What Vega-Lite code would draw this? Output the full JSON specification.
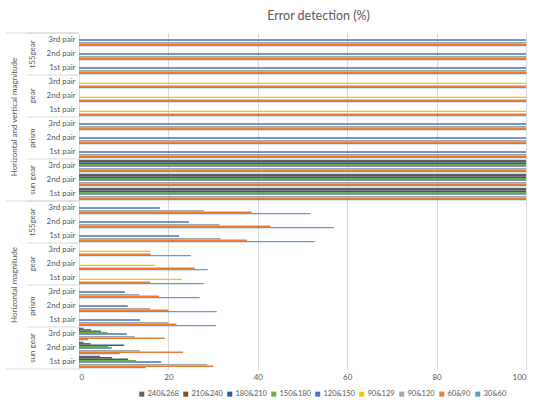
{
  "$schema": "https://vega.github.io/schema/vega-lite/v6.json",
  "width": 447,
  "height": 336,
  "autosize": "none",
  "padding": {"left": 79, "top": 33, "right": 24, "bottom": 41},
  "background": "white",
  "title": {
    "text": "Error detection (%)",
    "fontSize": 12.5,
    "fontWeight": "normal",
    "color": "#595959",
    "anchor": "middle",
    "dx": 16,
    "offset": 10
  },
  "config": {
    "font": "Lato",
    "view": {"stroke": null},
    "axisX": {
      "grid": true,
      "gridColor": "#D9D9D9",
      "domain": false,
      "ticks": false,
      "tickCount": 5,
      "labelColor": "#595959",
      "labelFontSize": 8,
      "labelPadding": 4
    },
    "axisY": {
      "grid": false,
      "domainColor": "#D9D9D9",
      "ticks": false,
      "labelColor": "#595959",
      "labelFontSize": 8,
      "labelPadding": 4,
      "labelExpr": "split(datum.value, '|')[2]"
    },
    "legend": {
      "orient": "none",
      "legendX": 59,
      "legendY": 357,
      "direction": "horizontal",
      "columns": 9,
      "symbolType": "square",
      "symbolSize": 25,
      "labelFontSize": 7.5,
      "labelColor": "#595959",
      "labelOffset": 2,
      "columnPadding": 3
    }
  },
  "datasets": {
    "bars": [
      {"key": "HV|t55gear|3rd pair", "series": "120&150", "value": 100},
      {"key": "HV|t55gear|3rd pair", "series": "90&120", "value": 100},
      {"key": "HV|t55gear|3rd pair", "series": "60&90", "value": 100},
      {"key": "HV|t55gear|3rd pair", "series": "30&60", "value": 100},
      {"key": "HV|t55gear|2nd pair", "series": "120&150", "value": 100},
      {"key": "HV|t55gear|2nd pair", "series": "90&120", "value": 100},
      {"key": "HV|t55gear|2nd pair", "series": "60&90", "value": 100},
      {"key": "HV|t55gear|2nd pair", "series": "30&60", "value": 100},
      {"key": "HV|t55gear|1st pair", "series": "120&150", "value": 100},
      {"key": "HV|t55gear|1st pair", "series": "90&120", "value": 100},
      {"key": "HV|t55gear|1st pair", "series": "60&90", "value": 100},
      {"key": "HV|t55gear|1st pair", "series": "30&60", "value": 100},
      {"key": "HV|gear|3rd pair", "series": "90&129", "value": 100},
      {"key": "HV|gear|3rd pair", "series": "60&90", "value": 100},
      {"key": "HV|gear|3rd pair", "series": "30&60", "value": 100},
      {"key": "HV|gear|2nd pair", "series": "90&129", "value": 100},
      {"key": "HV|gear|2nd pair", "series": "60&90", "value": 100},
      {"key": "HV|gear|2nd pair", "series": "30&60", "value": 100},
      {"key": "HV|gear|1st pair", "series": "90&129", "value": 100},
      {"key": "HV|gear|1st pair", "series": "60&90", "value": 100},
      {"key": "HV|gear|1st pair", "series": "30&60", "value": 100},
      {"key": "HV|prism|3rd pair", "series": "120&150", "value": 100},
      {"key": "HV|prism|3rd pair", "series": "90&120", "value": 100},
      {"key": "HV|prism|3rd pair", "series": "60&90", "value": 100},
      {"key": "HV|prism|3rd pair", "series": "30&60", "value": 100},
      {"key": "HV|prism|2nd pair", "series": "120&150", "value": 100},
      {"key": "HV|prism|2nd pair", "series": "90&120", "value": 100},
      {"key": "HV|prism|2nd pair", "series": "60&90", "value": 100},
      {"key": "HV|prism|2nd pair", "series": "30&60", "value": 100},
      {"key": "HV|prism|1st pair", "series": "120&150", "value": 100},
      {"key": "HV|prism|1st pair", "series": "90&120", "value": 100},
      {"key": "HV|prism|1st pair", "series": "60&90", "value": 100},
      {"key": "HV|prism|1st pair", "series": "30&60", "value": 100},
      {"key": "HV|sun gear|3rd pair", "series": "240&268", "value": 100},
      {"key": "HV|sun gear|3rd pair", "series": "210&240", "value": 100},
      {"key": "HV|sun gear|3rd pair", "series": "180&210", "value": 100},
      {"key": "HV|sun gear|3rd pair", "series": "150&180", "value": 100},
      {"key": "HV|sun gear|3rd pair", "series": "120&150", "value": 100},
      {"key": "HV|sun gear|3rd pair", "series": "90&120", "value": 100},
      {"key": "HV|sun gear|3rd pair", "series": "60&90", "value": 100},
      {"key": "HV|sun gear|3rd pair", "series": "30&60", "value": 100},
      {"key": "HV|sun gear|2nd pair", "series": "240&268", "value": 100},
      {"key": "HV|sun gear|2nd pair", "series": "210&240", "value": 100},
      {"key": "HV|sun gear|2nd pair", "series": "180&210", "value": 100},
      {"key": "HV|sun gear|2nd pair", "series": "150&180", "value": 100},
      {"key": "HV|sun gear|2nd pair", "series": "120&150", "value": 100},
      {"key": "HV|sun gear|2nd pair", "series": "90&120", "value": 100},
      {"key": "HV|sun gear|2nd pair", "series": "60&90", "value": 100},
      {"key": "HV|sun gear|2nd pair", "series": "30&60", "value": 100},
      {"key": "HV|sun gear|1st pair", "series": "240&268", "value": 100},
      {"key": "HV|sun gear|1st pair", "series": "210&240", "value": 100},
      {"key": "HV|sun gear|1st pair", "series": "180&210", "value": 100},
      {"key": "HV|sun gear|1st pair", "series": "150&180", "value": 100},
      {"key": "HV|sun gear|1st pair", "series": "120&150", "value": 100},
      {"key": "HV|sun gear|1st pair", "series": "90&120", "value": 100},
      {"key": "HV|sun gear|1st pair", "series": "60&90", "value": 100},
      {"key": "HV|sun gear|1st pair", "series": "30&60", "value": 100},
      {"key": "H|t55gear|3rd pair", "series": "120&150", "value": 18.1},
      {"key": "H|t55gear|3rd pair", "series": "90&120", "value": 27.9},
      {"key": "H|t55gear|3rd pair", "series": "60&90", "value": 38.6},
      {"key": "H|t55gear|3rd pair", "series": "30&60", "value": 51.8},
      {"key": "H|t55gear|2nd pair", "series": "120&150", "value": 24.6},
      {"key": "H|t55gear|2nd pair", "series": "90&120", "value": 31.4},
      {"key": "H|t55gear|2nd pair", "series": "60&90", "value": 42.8},
      {"key": "H|t55gear|2nd pair", "series": "30&60", "value": 57.0},
      {"key": "H|t55gear|1st pair", "series": "120&150", "value": 22.4},
      {"key": "H|t55gear|1st pair", "series": "90&120", "value": 31.7},
      {"key": "H|t55gear|1st pair", "series": "60&90", "value": 37.6},
      {"key": "H|t55gear|1st pair", "series": "30&60", "value": 52.7},
      {"key": "H|gear|3rd pair", "series": "90&129", "value": 16.0},
      {"key": "H|gear|3rd pair", "series": "60&90", "value": 16.0},
      {"key": "H|gear|3rd pair", "series": "30&60", "value": 25.0},
      {"key": "H|gear|2nd pair", "series": "90&129", "value": 17.1},
      {"key": "H|gear|2nd pair", "series": "60&90", "value": 25.9},
      {"key": "H|gear|2nd pair", "series": "30&60", "value": 28.8},
      {"key": "H|gear|1st pair", "series": "90&129", "value": 23.0},
      {"key": "H|gear|1st pair", "series": "60&90", "value": 15.9},
      {"key": "H|gear|1st pair", "series": "30&60", "value": 27.9},
      {"key": "H|prism|3rd pair", "series": "120&150", "value": 10.3},
      {"key": "H|prism|3rd pair", "series": "90&120", "value": 13.5},
      {"key": "H|prism|3rd pair", "series": "60&90", "value": 17.9},
      {"key": "H|prism|3rd pair", "series": "30&60", "value": 27.0},
      {"key": "H|prism|2nd pair", "series": "120&150", "value": 10.9},
      {"key": "H|prism|2nd pair", "series": "90&120", "value": 15.9},
      {"key": "H|prism|2nd pair", "series": "60&90", "value": 20.0},
      {"key": "H|prism|2nd pair", "series": "30&60", "value": 30.8},
      {"key": "H|prism|1st pair", "series": "120&150", "value": 13.6},
      {"key": "H|prism|1st pair", "series": "90&120", "value": 20.0},
      {"key": "H|prism|1st pair", "series": "60&90", "value": 21.8},
      {"key": "H|prism|1st pair", "series": "30&60", "value": 30.6},
      {"key": "H|sun gear|3rd pair", "series": "240&268", "value": 1.0},
      {"key": "H|sun gear|3rd pair", "series": "210&240", "value": 2.7},
      {"key": "H|sun gear|3rd pair", "series": "180&210", "value": 4.9},
      {"key": "H|sun gear|3rd pair", "series": "150&180", "value": 6.4},
      {"key": "H|sun gear|3rd pair", "series": "120&150", "value": 10.7},
      {"key": "H|sun gear|3rd pair", "series": "90&120", "value": 12.5},
      {"key": "H|sun gear|3rd pair", "series": "60&90", "value": 19.2},
      {"key": "H|sun gear|3rd pair", "series": "30&60", "value": 2.0},
      {"key": "H|sun gear|2nd pair", "series": "240&268", "value": 1.0},
      {"key": "H|sun gear|2nd pair", "series": "210&240", "value": 2.6},
      {"key": "H|sun gear|2nd pair", "series": "180&210", "value": 10.1},
      {"key": "H|sun gear|2nd pair", "series": "150&180", "value": 6.5},
      {"key": "H|sun gear|2nd pair", "series": "120&150", "value": 7.3},
      {"key": "H|sun gear|2nd pair", "series": "90&120", "value": 13.6},
      {"key": "H|sun gear|2nd pair", "series": "60&90", "value": 23.3},
      {"key": "H|sun gear|2nd pair", "series": "30&60", "value": 9.1},
      {"key": "H|sun gear|1st pair", "series": "240&268", "value": 4.7},
      {"key": "H|sun gear|1st pair", "series": "210&240", "value": 7.4},
      {"key": "H|sun gear|1st pair", "series": "180&210", "value": 11.0},
      {"key": "H|sun gear|1st pair", "series": "150&180", "value": 12.7},
      {"key": "H|sun gear|1st pair", "series": "120&150", "value": 18.4},
      {"key": "H|sun gear|1st pair", "series": "90&120", "value": 28.7},
      {"key": "H|sun gear|1st pair", "series": "60&90", "value": 30.0},
      {"key": "H|sun gear|1st pair", "series": "30&60", "value": 14.9}
    ],
    "middle": [
      {"key": "HV|t55gear|2nd pair", "label": "t55gear"},
      {"key": "HV|gear|2nd pair", "label": "gear"},
      {"key": "HV|prism|2nd pair", "label": "prism"},
      {"key": "HV|sun gear|2nd pair", "label": "sun gear"},
      {"key": "H|t55gear|2nd pair", "label": "t55gear"},
      {"key": "H|gear|2nd pair", "label": "gear"},
      {"key": "H|prism|2nd pair", "label": "prism"},
      {"key": "H|sun gear|2nd pair", "label": "sun gear"}
    ],
    "outer": [
      {"key": "HV|prism|3rd pair", "label": "Horizontal and vertical magnitude"},
      {"key": "H|prism|3rd pair", "label": "Horizontal magnitude"}
    ],
    "groupTops": [
      {"key": "HV|t55gear|3rd pair"},
      {"key": "HV|gear|3rd pair"},
      {"key": "HV|prism|3rd pair"},
      {"key": "HV|sun gear|3rd pair"},
      {"key": "H|t55gear|3rd pair"},
      {"key": "H|gear|3rd pair"},
      {"key": "H|prism|3rd pair"},
      {"key": "H|sun gear|3rd pair"}
    ],
    "outerTops": [
      {"key": "HV|t55gear|3rd pair"},
      {"key": "H|t55gear|3rd pair"}
    ],
    "bottom": [
      {"key": "H|sun gear|1st pair"}
    ]
  },
  "layer": [
    {
      "data": {"name": "bars"},
      "mark": {"type": "bar"},
      "encoding": {
        "y": {
          "field": "key",
          "type": "nominal",
          "title": null,
          "scale": {
            "domain": [
              "HV|t55gear|3rd pair", "HV|t55gear|2nd pair", "HV|t55gear|1st pair",
              "HV|gear|3rd pair", "HV|gear|2nd pair", "HV|gear|1st pair",
              "HV|prism|3rd pair", "HV|prism|2nd pair", "HV|prism|1st pair",
              "HV|sun gear|3rd pair", "HV|sun gear|2nd pair", "HV|sun gear|1st pair",
              "H|t55gear|3rd pair", "H|t55gear|2nd pair", "H|t55gear|1st pair",
              "H|gear|3rd pair", "H|gear|2nd pair", "H|gear|1st pair",
              "H|prism|3rd pair", "H|prism|2nd pair", "H|prism|1st pair",
              "H|sun gear|3rd pair", "H|sun gear|2nd pair", "H|sun gear|1st pair"
            ],
            "paddingInner": 0,
            "paddingOuter": 0
          }
        },
        "yOffset": {
          "field": "series",
          "type": "nominal",
          "scale": {
            "domain": ["240&268", "210&240", "180&210", "150&180", "120&150", "90&129", "90&120", "60&90", "30&60"],
            "paddingInner": 0,
            "paddingOuter": 0.5
          }
        },
        "x": {
          "field": "value",
          "type": "quantitative",
          "title": null,
          "scale": {"domain": [0, 100]}
        },
        "color": {
          "field": "series",
          "type": "nominal",
          "title": null,
          "scale": {
            "domain": ["240&268", "210&240", "180&210", "150&180", "120&150", "90&129", "90&120", "60&90", "30&60"],
            "range": ["#636363", "#9E480E", "#255E91", "#70AD47", "#4472C4", "#FFC000", "#A5A5A5", "#ED7D31", "#5B9BD5"]
          }
        }
      }
    },
    {
      "data": {"name": "groupTops"},
      "mark": {"type": "rule", "color": "#D9D9D9"},
      "encoding": {
        "y": {"field": "key", "type": "nominal", "title": null, "bandPosition": 0},
        "x": {"datum": -11.6, "type": "quantitative", "title": null, "scale": {"domain": [0, 100]}},
        "x2": {"datum": 0}
      }
    },
    {
      "data": {"name": "outerTops"},
      "mark": {"type": "rule", "color": "#D9D9D9"},
      "encoding": {
        "y": {"field": "key", "type": "nominal", "title": null, "bandPosition": 0},
        "x": {"datum": -16.4, "type": "quantitative", "title": null, "scale": {"domain": [0, 100]}},
        "x2": {"datum": 0}
      }
    },
    {
      "data": {"name": "bottom"},
      "mark": {"type": "rule", "color": "#D9D9D9"},
      "encoding": {
        "y": {"field": "key", "type": "nominal", "title": null, "bandPosition": 1},
        "x": {"datum": -16.4, "type": "quantitative", "title": null, "scale": {"domain": [0, 100]}},
        "x2": {"datum": 0}
      }
    },
    {
      "data": {"name": "middle"},
      "mark": {"type": "text", "angle": 270, "align": "center", "baseline": "middle", "fontSize": 8, "color": "#595959"},
      "encoding": {
        "y": {"field": "key", "type": "nominal", "title": null},
        "x": {"datum": -10.2, "type": "quantitative", "title": null, "scale": {"domain": [0, 100]}},
        "text": {"field": "label"}
      }
    },
    {
      "data": {"name": "outer"},
      "mark": {"type": "text", "angle": 270, "align": "center", "baseline": "middle", "fontSize": 8, "color": "#595959"},
      "encoding": {
        "y": {"field": "key", "type": "nominal", "title": null, "bandPosition": 0},
        "x": {"datum": -14.4, "type": "quantitative", "title": null, "scale": {"domain": [0, 100]}},
        "text": {"field": "label"}
      }
    }
  ]
}
